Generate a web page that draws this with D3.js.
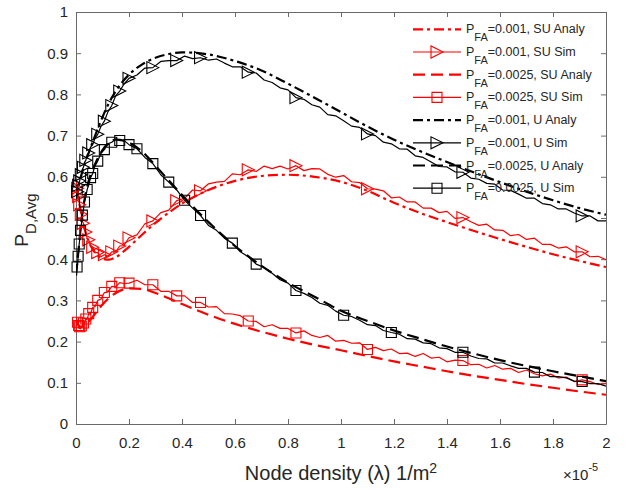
<!DOCTYPE html>
<html>
<head>
<meta charset="utf-8">
<script src="https://cdn.jsdelivr.net/npm/d3@7"></script>
<style>
    body { margin: 0; background: #fff; }
    svg { display: block; font-family: "Liberation Sans", Arial, sans-serif; }
</style>
</head>
<body>
<svg id="chart" width="625" height="489"></svg>
<script>
const xTicks = [0, 0.2, 0.4, 0.6, 0.8, 1, 1.2, 1.4, 1.6, 1.8, 2]
const yTicks = [0, 0.1, 0.2, 0.3, 0.4, 0.5, 0.6, 0.7, 0.8, 0.9, 1]

// analytic curves, x in units of 1e-5 nodes/m^2
const anaX = [0, 0.01, 0.02, 0.035, 0.05, 0.075, 0.1, 0.125, 0.15, 0.2, 0.25, 0.3, 0.35, 0.4, 0.45, 0.5,
    0.6, 0.7, 0.8, 0.9, 1.0, 1.1, 1.2, 1.3, 1.4, 1.5, 1.6, 1.7, 1.8, 1.9, 2.0]
const suAna1 = [0.585, 0.545, 0.51, 0.468, 0.44, 0.413, 0.401, 0.399, 0.405, 0.43, 0.46, 0.488, 0.513, 0.535, 0.553, 0.568,
    0.59, 0.602, 0.605, 0.6, 0.588, 0.566, 0.537, 0.512, 0.49, 0.469, 0.449, 0.43, 0.412, 0.396, 0.381]
const suAna2 = [0.252, 0.24, 0.236, 0.24, 0.25, 0.27, 0.29, 0.306, 0.318, 0.329, 0.328, 0.318, 0.305, 0.291, 0.278, 0.265,
    0.243, 0.224, 0.207, 0.192, 0.179, 0.165, 0.152, 0.14, 0.128, 0.117, 0.107, 0.097, 0.088, 0.079, 0.071]
const uAna1 = [0.545, 0.578, 0.603, 0.635, 0.662, 0.705, 0.745, 0.78, 0.808, 0.848, 0.873, 0.889, 0.898, 0.902, 0.901, 0.897,
    0.881, 0.858, 0.826, 0.792, 0.757, 0.722, 0.69, 0.662, 0.636, 0.611, 0.587, 0.564, 0.543, 0.524, 0.508]
const uAna2 = [0.36, 0.425, 0.49, 0.555, 0.595, 0.635, 0.665, 0.683, 0.69, 0.683, 0.661, 0.627, 0.591, 0.556, 0.522, 0.49,
    0.432, 0.384, 0.343, 0.309, 0.275, 0.25, 0.227, 0.207, 0.188, 0.171, 0.155, 0.141, 0.128, 0.116, 0.104]

// simulation runs
const simX = [0.002, 0.004, 0.006, 0.008, 0.01, 0.012, 0.014, 0.017, 0.02, 0.024, 0.028, 0.032, 0.037,
    0.042, 0.048, 0.055, 0.063, 0.072, 0.082, 0.094, 0.107, 0.12, 0.135, 0.15, 0.165, 0.18,
    0.2, 0.23, 0.26, 0.29, 0.32, 0.35, 0.38, 0.41, 0.44, 0.47, 0.5, 0.53, 0.56, 0.59, 0.62, 0.65,
    0.68, 0.71, 0.74, 0.77, 0.8, 0.83, 0.86, 0.89, 0.92, 0.95, 0.98, 1.01, 1.04, 1.07, 1.1, 1.13,
    1.16, 1.19, 1.22, 1.25, 1.28, 1.31, 1.34, 1.37, 1.4, 1.43, 1.46, 1.49, 1.52, 1.55, 1.58, 1.61,
    1.64, 1.67, 1.7, 1.73, 1.76, 1.79, 1.82, 1.85, 1.88, 1.91, 1.94, 1.97, 2.0]
const suSim1 = [0.593, 0.578, 0.572, 0.557, 0.552, 0.537, 0.532, 0.515, 0.509, 0.492, 0.487, 0.471, 0.466,
    0.450, 0.447, 0.432, 0.429, 0.416, 0.416, 0.406, 0.411, 0.407, 0.418, 0.418, 0.432, 0.433,
    0.452, 0.459, 0.486, 0.493, 0.513, 0.519, 0.542, 0.548, 0.568, 0.566, 0.583, 0.587, 0.589, 0.607, 0.605, 0.617,
    0.613, 0.626, 0.620, 0.626, 0.619, 0.627, 0.615, 0.620, 0.619, 0.606, 0.599, 0.603, 0.588, 0.586, 0.571, 0.570,
    0.566, 0.549, 0.551, 0.539, 0.539, 0.524, 0.524, 0.513, 0.516, 0.499, 0.501, 0.491, 0.482, 0.485, 0.471, 0.470,
    0.457, 0.460, 0.448, 0.451, 0.436, 0.436, 0.427, 0.430, 0.418, 0.418, 0.406, 0.407, 0.399]
const suSim2 = [0.258, 0.248, 0.247, 0.238, 0.239, 0.232, 0.236, 0.231, 0.238, 0.235, 0.245, 0.243, 0.255,
    0.254, 0.268, 0.267, 0.283, 0.285, 0.300, 0.303, 0.319, 0.320, 0.334, 0.333, 0.343, 0.341,
    0.342, 0.349, 0.338, 0.338, 0.322, 0.322, 0.311, 0.311, 0.295, 0.295, 0.284, 0.285, 0.268, 0.267, 0.263, 0.250,
    0.249, 0.236, 0.241, 0.232, 0.232, 0.221, 0.226, 0.215, 0.210, 0.215, 0.201, 0.203, 0.196, 0.197, 0.181, 0.186,
    0.178, 0.182, 0.171, 0.172, 0.164, 0.171, 0.160, 0.162, 0.151, 0.155, 0.154, 0.144, 0.145, 0.136, 0.142, 0.133,
    0.135, 0.125, 0.131, 0.122, 0.117, 0.121, 0.112, 0.114, 0.103, 0.107, 0.103, 0.096, 0.098]
const uSim1 = [0.548, 0.560, 0.564, 0.577, 0.579, 0.588, 0.590, 0.602, 0.605, 0.618, 0.623, 0.635, 0.640,
    0.653, 0.658, 0.672, 0.678, 0.694, 0.703, 0.722, 0.735, 0.757, 0.773, 0.797, 0.808, 0.824,
    0.839, 0.847, 0.864, 0.865, 0.880, 0.882, 0.882, 0.893, 0.887, 0.889, 0.883, 0.886, 0.876, 0.867, 0.867, 0.854,
    0.852, 0.835, 0.829, 0.816, 0.811, 0.792, 0.788, 0.775, 0.769, 0.751, 0.748, 0.736, 0.723, 0.720, 0.704, 0.700,
    0.684, 0.680, 0.668, 0.667, 0.651, 0.647, 0.636, 0.625, 0.624, 0.612, 0.611, 0.597, 0.594, 0.584, 0.582, 0.568,
    0.567, 0.558, 0.548, 0.548, 0.535, 0.532, 0.522, 0.522, 0.512, 0.505, 0.505, 0.493, 0.493]
const uSim2 = [0.368, 0.381, 0.388, 0.407, 0.418, 0.437, 0.448, 0.470, 0.483, 0.507, 0.520, 0.539, 0.551,
    0.569, 0.580, 0.598, 0.608, 0.627, 0.638, 0.657, 0.666, 0.680, 0.684, 0.692, 0.688, 0.689,
    0.678, 0.668, 0.647, 0.632, 0.605, 0.587, 0.568, 0.543, 0.524, 0.506, 0.482, 0.470, 0.451, 0.439, 0.418, 0.406,
    0.388, 0.380, 0.366, 0.350, 0.342, 0.324, 0.317, 0.307, 0.293, 0.288, 0.274, 0.264, 0.261, 0.252, 0.241, 0.239,
    0.227, 0.222, 0.218, 0.207, 0.206, 0.197, 0.195, 0.185, 0.183, 0.174, 0.174, 0.165, 0.159, 0.158, 0.148, 0.148,
    0.141, 0.135, 0.135, 0.126, 0.125, 0.115, 0.115, 0.112, 0.104, 0.103, 0.098, 0.098, 0.092]

// x positions of the plotted markers on the simulation runs
const triMarkX = [0.006, 0.01, 0.014, 0.02, 0.028, 0.037, 0.048, 0.063, 0.082, 0.107, 0.135, 0.165,
    0.2, 0.29, 0.38, 0.47, 0.65, 0.83, 1.1, 1.46, 1.91]
const sqMarkX = [0.004, 0.008, 0.012, 0.017, 0.024, 0.032, 0.042, 0.055, 0.063, 0.082, 0.107, 0.135, 0.165,
    0.2, 0.23, 0.29, 0.35, 0.41, 0.47, 0.59, 0.68, 0.83, 1.01, 1.19, 1.46, 1.73, 1.91]

const legendPfa = ["0.001", "0.001", "0.0025", "0.0025", "0.001", "0.001", "0.0025", "0.0025"]
const legendNames = ["SU Analy", "SU Sim", "SU Analy", "SU Sim", "U Analy", "U Sim", "U Analy", "U Sim"]

/**
 * Draws the detection probability figure
 */
class PdChart {

    static RED = "#ff0000"
    static BLACK = "#000000"
    static AXIS_COLOR = "#6a6a6a"
    static TEXT_COLOR = "#262626"
    static DASH_DOT = "10,4,3,4"
    static DASH = "12,6"
    static TICK = 5

    svg;
    x;
    y;
    series;

    constructor(svg) {
        this.svg = svg
        this.x = d3.scaleLinear().domain([0, 2]).range([76, 606])
        this.y = d3.scaleLinear().domain([0, 1]).range([424, 12])

        const R = PdChart.RED, K = PdChart.BLACK
        this.series = [
            {xs: anaX, ys: suAna1, color: R, dash: PdChart.DASH_DOT, width: 2.2},
            {xs: simX, ys: suSim1, color: R, width: 1.2, marker: "tri", marks: triMarkX},
            {xs: anaX, ys: suAna2, color: R, dash: PdChart.DASH, width: 2.2},
            {xs: simX, ys: suSim2, color: R, width: 1.2, marker: "sq", marks: triMarkX},
            {xs: anaX, ys: uAna1, color: K, dash: PdChart.DASH_DOT, width: 2.2},
            {xs: simX, ys: uSim1, color: K, width: 1.2, marker: "tri", marks: triMarkX},
            {xs: anaX, ys: uAna2, color: K, dash: PdChart.DASH, width: 2.2},
            {xs: simX, ys: uSim2, color: K, width: 1.2, marker: "sq", marks: sqMarkX},
        ]
    }

    /**
     * @param type "tri" or "sq"
     * @returns {string} Svg path of the marker centred on 0,0
     */
    static markerPath(type) {
        if (type === "tri")
            return "M6,0L-6,-6L-6,6Z"
        return "M-5,-5H5V5H-5Z"
    }

    drawAxes() {
        const fmt = d3.format("~g")
        const g = this.svg.append("g").attr("color", PdChart.AXIS_COLOR)

        const styleAxis = sel => {
            sel.selectAll("text")
                .attr("fill", PdChart.TEXT_COLOR)
                .style("font-size", "15px")
                .style("font-family", '"Liberation Sans", Arial, sans-serif')
        }

        g.append("g").attr("transform", "translate(0,424)")
            .call(d3.axisBottom(this.x).tickValues(xTicks).tickFormat(fmt)
                .tickSizeInner(-PdChart.TICK).tickSizeOuter(0).tickPadding(13))
            .call(styleAxis)
        g.append("g").attr("transform", "translate(76,0)")
            .call(d3.axisLeft(this.y).tickValues(yTicks).tickFormat(fmt)
                .tickSizeInner(-PdChart.TICK).tickSizeOuter(0).tickPadding(8))
            .call(styleAxis)
        g.append("g").attr("transform", "translate(0,12)")
            .call(d3.axisTop(this.x).tickValues(xTicks).tickFormat("")
                .tickSizeInner(-PdChart.TICK).tickSizeOuter(0))
        g.append("g").attr("transform", "translate(606,0)")
            .call(d3.axisRight(this.y).tickValues(yTicks).tickFormat("")
                .tickSizeInner(-PdChart.TICK).tickSizeOuter(0))
        g.selectAll("path.domain, line").attr("stroke-width", 1)
        g.selectAll("text").attr("fill", PdChart.TEXT_COLOR)
    }

    drawSeries() {
        this.svg.append("clipPath").attr("id", "plotClip")
            .append("rect").attr("x", 76).attr("y", 12).attr("width", 530).attr("height", 412)

        const plot = this.svg.append("g").attr("clip-path", "url(#plotClip)")
        const self = this

        this.series.forEach(s => {
            const pts = s.xs.map((xv, i) => [xv, s.ys[i]])
            const line = d3.line()
                .x(d => self.x(d[0]))
                .y(d => self.y(d[1]))
                .curve(s.marker ? d3.curveLinear : d3.curveMonotoneX)

            plot.append("path")
                .datum(pts)
                .attr("d", line)
                .attr("fill", "none")
                .attr("stroke", s.color)
                .attr("stroke-width", s.width)
                .attr("stroke-dasharray", s.dash || null)
                .attr("stroke-linejoin", "round")

            if (s.marker) {
                const idx = s.marks.map(mx => d3.minIndex(s.xs, v => Math.abs(v - mx)))
                this.svg.append("g").selectAll("path")
                    .data(idx)
                    .enter()
                    .append("path")
                    .attr("transform", i => `translate(${self.x(pts[i][0])},${self.y(pts[i][1])})`)
                    .attr("d", PdChart.markerPath(s.marker))
                    .attr("fill", "none")
                    .attr("stroke", s.color)
                    .attr("stroke-width", 1.1)
            }
        })
    }

    drawLegend() {
        const g = this.svg.append("g")
        const rowH = 22.7
        this.series.forEach((s, i) => {
            const yy = 29.3 + i * rowH
            g.append("line")
                .attr("x1", 413).attr("x2", 461).attr("y1", yy).attr("y2", yy)
                .attr("stroke", s.color)
                .attr("stroke-width", s.width)
                .attr("stroke-dasharray", s.dash || null)
            if (s.marker) {
                g.append("path")
                    .attr("transform", `translate(437,${yy})`)
                    .attr("d", PdChart.markerPath(s.marker))
                    .attr("fill", "none")
                    .attr("stroke", s.color)
                    .attr("stroke-width", 1.1)
            }
            const t = g.append("text")
                .attr("x", 466).attr("y", yy + 4)
                .attr("fill", PdChart.TEXT_COLOR)
                .style("font-size", "12.5px")
            t.append("tspan").text("P")
            t.append("tspan").attr("dy", 8).style("font-size", "11px").text("FA")
            t.append("tspan").attr("dy", -8).text("=" + legendPfa[i] + ", " + legendNames[i])
        })
    }

    drawLabels() {
        const xl = this.svg.append("text")
            .attr("x", 341).attr("y", 480)
            .attr("text-anchor", "middle")
            .attr("fill", PdChart.TEXT_COLOR)
            .style("font-size", "20px")
        xl.append("tspan").text("Node density (λ) 1/m")
        xl.append("tspan").attr("dy", -7).style("font-size", "14px").text("2")

        const yl = this.svg.append("text")
            .attr("transform", "translate(28,220) rotate(-90)")
            .attr("text-anchor", "middle")
            .attr("fill", PdChart.TEXT_COLOR)
            .style("font-size", "19px")
        yl.append("tspan").text("P")
        yl.append("tspan").attr("dy", 8).style("font-size", "15px").text("D,Avg")

        const ex = this.svg.append("text")
            .attr("x", 563).attr("y", 480)
            .attr("fill", PdChart.TEXT_COLOR)
            .style("font-size", "15px")
        ex.append("tspan").text("×10")
        ex.append("tspan").attr("dy", -9).style("font-size", "11px").text("-5")
    }

    generate() {
        this.drawAxes()
        this.drawSeries()
        this.drawLegend()
        this.drawLabels()
    }
}

new PdChart(d3.select("#chart")).generate()
</script>
</body>
</html>
